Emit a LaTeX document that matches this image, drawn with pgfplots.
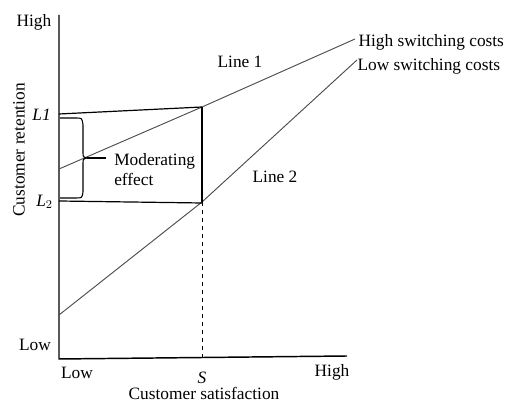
\documentclass[border=0pt]{standalone}
\usepackage{fontspec}
\setmainfont{Liberation Serif}
\usepackage{pgfplots}
\pgfplotsset{compat=1.18}
\begin{document}
\fontsize{13}{15}\selectfont
\begin{tikzpicture}
\begin{axis}[
  scale only axis, width=381pt, height=302.25pt,
  xmin=0, xmax=508, ymin=0, ymax=403,
  hide axis, clip=false,
]
% axes
\addplot[black, line width=1.1pt] coordinates {(59,388) (59,44) (347,47)};
% Line 1 (high switching costs)
\addplot[black!70, line width=0.7pt] coordinates {(59,234) (202,296) (355,364)};
% Line 2 (low switching costs)
\addplot[black!70, line width=0.7pt] coordinates {(59,88) (202,201) (357,343)};
% L1 and L2 levels
\addplot[black, line width=0.9pt] coordinates {(59,289) (202,296)};
\addplot[black, line width=0.9pt] coordinates {(59,202) (202,200)};
% vertical at S
\addplot[black, line width=0.8pt] coordinates {(202,296) (202,201)};
\addplot[black, line width=0.7pt, dashed] coordinates {(202,201) (202,44)};
% brace
\draw[black, line width=0.8pt] (axis cs:60,285) -- (axis cs:76,285)
   .. controls (axis cs:82,285) .. (axis cs:83,278) -- (axis cs:83,251)
   .. controls (axis cs:83,246) .. (axis cs:87,245)
   .. controls (axis cs:83,244) .. (axis cs:83,239) -- (axis cs:83,211)
   .. controls (axis cs:82,205) .. (axis cs:76,205) -- (axis cs:60,205);
\draw[black, line width=1pt] (axis cs:87,245) -- (axis cs:106,245);
% labels
\node at (axis cs:34,381) {High};
\node at (axis cs:35,58) {Low};
\node[anchor=east, inner sep=0pt] at (axis cs:51,288) {\itshape L1};
\node[anchor=east, inner sep=0pt] at (axis cs:53,201) {$\mathit{L}_{2}$};
\node at (axis cs:77,30) {Low};
\node at (axis cs:202,25) {\itshape S};
\node at (axis cs:332,31) {High};
\node[anchor=base, inner sep=0pt] at (axis cs:204,3) {Customer satisfaction};
\node[rotate=90] at (axis cs:19,253) {Customer retention};
\node at (axis cs:240,341) {Line 1};
\node at (axis cs:275,226) {Line 2};
\node[anchor=west, inner sep=1pt] at (axis cs:357,361) {High switching costs};
\node[anchor=west, inner sep=1pt] at (axis cs:356,337) {Low switching costs};
\node[anchor=west, align=left, inner sep=0pt] at (axis cs:114,233) {Moderating\\effect};
\end{axis}
\pgfresetboundingbox
\path[use as bounding box] (current axis.south west) rectangle (current axis.north east);
\end{tikzpicture}
\end{document}
